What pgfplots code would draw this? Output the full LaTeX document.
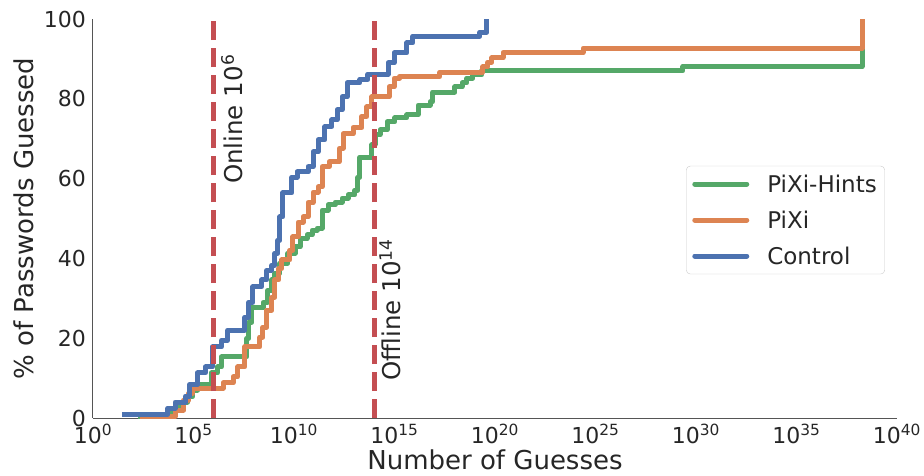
\documentclass[border=0pt]{standalone}
\usepackage{pgfplots}
\pgfplotsset{compat=1.18}
\usepackage{fontspec}
\setmainfont{DejaVu Sans}

\definecolor{cblue}{HTML}{4C72B0}
\definecolor{corange}{HTML}{DD8452}
\definecolor{cgreen}{HTML}{55A868}
\definecolor{cred}{HTML}{C44E52}
\definecolor{textgray}{HTML}{262626}
\definecolor{spine}{HTML}{555555}
\definecolor{legframe}{HTML}{CCCCCC}

% x values are log10(number of guesses)
\pgfplotstableread{
L Y
2.24 0.5
3.90 2.5
4.30 4.0
4.70 5.3
4.95 7.0
5.20 8.3
5.90 11.3
6.20 12.8
6.40 15.3
7.66 20.0
7.75 24.0
7.90 27.6
8.46 29.0
8.70 32.0
8.90 34.6
9.05 36.3
9.30 38.8
9.70 41.3
10.05 42.9
10.30 45.0
10.65 45.9
10.90 47.1
11.15 47.6
11.40 52.1
11.70 53.4
12.04 54.1
12.39 55.1
12.69 55.9
13.03 57.1
13.18 60.4
13.28 65.4
13.88 68.5
14.03 71.0
14.28 72.2
14.63 74.2
15.02 75.2
15.62 76.0
16.17 78.4
16.77 79.2
16.90 81.7
18.00 83.0
18.36 84.0
18.60 85.2
18.90 86.0
19.35 87.0
29.35 88.1
38.26 100
}\hints

\pgfplotstableread{
L Y
2.34 0.5
4.10 2.0
4.50 4.5
4.75 6.2
4.97 7.5
6.47 8.8
6.97 10.3
7.20 12.8
7.56 17.8
8.30 20.3
8.45 22.8
8.65 27.0
8.90 30.3
9.05 34.6
9.25 37.5
9.40 39.6
9.80 42.1
9.95 45.4
10.20 49.1
10.45 50.4
10.70 54.0
10.95 56.6
11.20 57.9
11.40 63.0
11.75 64.2
12.25 67.6
12.44 71.2
12.94 72.8
13.38 75.6
13.63 78.0
13.88 80.5
14.73 83.0
14.98 85.2
15.27 85.6
17.26 86.7
19.40 88.0
19.65 89.2
19.85 90.3
20.40 91.6
24.38 92.7
38.26 100
}\pixi

\pgfplotstableread{
L Y
1.44 1.0
3.73 2.5
4.08 4.0
4.60 5.5
4.80 8.3
5.20 11.3
5.60 12.8
5.95 17.8
6.40 19.5
6.70 22.0
7.56 25.3
7.75 29.0
7.96 32.9
8.40 34.6
8.65 37.0
8.90 38.3
9.05 41.3
9.20 44.6
9.30 50.4
9.45 56.4
9.90 60.4
10.15 61.7
10.70 63.0
10.95 66.7
11.20 69.7
11.54 73.0
11.89 74.7
12.14 77.2
12.39 80.5
12.64 84.0
13.28 84.8
13.68 86.2
14.68 89.0
14.98 91.5
15.62 94.0
15.92 95.7
19.25 96.7
19.60 100
}\control

\begin{document}
\begin{tikzpicture}
\begin{axis}[
    at={(0,0)}, anchor=south west,
    scale only axis, width=804pt, height=399pt,
    xmin=0, xmax=40, ymin=0, ymax=100,
    axis x line*=bottom, axis y line*=left,
    axis line style={-, draw=spine, line width=1pt},
    major tick length=0pt,
    xtick={0,5,...,40},
    xticklabels={10\textsuperscript{0},10\textsuperscript{5},10\textsuperscript{10},10\textsuperscript{15},10\textsuperscript{20},10\textsuperscript{25},10\textsuperscript{30},10\textsuperscript{35},10\textsuperscript{40}},
    ytick={0,20,...,100},
    /pgf/number format/assume math mode=true,
    tick label style={font=\fontsize{22}{26}\selectfont, text=textgray},
    xticklabel style={anchor=base, yshift=-25pt},
    yticklabel style={anchor=east, inner sep=0pt, xshift=-7pt},
    xlabel={Number of Guesses},
    ylabel={\% of Passwords Guessed},
    xlabel style={at={(axis description cs:0.5,-0.130)}, anchor=base, font=\fontsize{26}{30}\selectfont, text=textgray},
    ylabel style={at={(axis description cs:-0.0746,0.5)}, anchor=base, font=\fontsize{26}{30}\selectfont, text=textgray},
    legend style={at={(axis description cs:0.985,0.632)}, anchor=north east,
        draw=legframe, rounded corners=4pt, fill=white,
        font=\fontsize{23}{27}\selectfont, text=textgray,
        inner xsep=6pt, inner ysep=7pt, row sep=14pt,
        nodes={inner sep=2pt, text height=17pt, text depth=1pt},
        /tikz/every odd column/.append style={column sep=16pt}},
    legend cell align=left,
    legend image code/.code={\draw[#1, line width=5pt, line cap=round] (0pt,0pt) -- (52pt,0pt);},
    every axis plot/.append style={line width=5pt, line join=round},
]
\addplot[cgreen, const plot, mark=none] table[x=L, y=Y] {\hints};
\addlegendentry{PiXi-Hints}
\addplot[corange, const plot, mark=none] table[x=L, y=Y] {\pixi};
\addlegendentry{PiXi}
\addplot[cblue, const plot, mark=none] table[x=L, y=Y] {\control};
\addlegendentry{Control}

\addplot[cred, forget plot, mark=none, dash pattern=on 19pt off 8pt] coordinates {(6,0) (6,100)};
\addplot[cred, forget plot, mark=none, dash pattern=on 19pt off 8pt] coordinates {(14,0) (14,100)};

\node[rotate=90, anchor=base west, inner sep=0pt, text=textgray, font=\fontsize{24.5}{28}\selectfont]
    at (axis cs:7.46,58.6) {Online 10\textsuperscript{6}};
\node[rotate=90, anchor=base west, inner sep=0pt, text=textgray, font=\fontsize{24.5}{28}\selectfont]
    at (axis cs:15.32,9.3) {Offline 10\textsuperscript{14}};
\end{axis}
\pgfresetboundingbox
\path[use as bounding box] (-93pt,-57pt) rectangle (831pt,418pt);
\end{tikzpicture}
\end{document}
